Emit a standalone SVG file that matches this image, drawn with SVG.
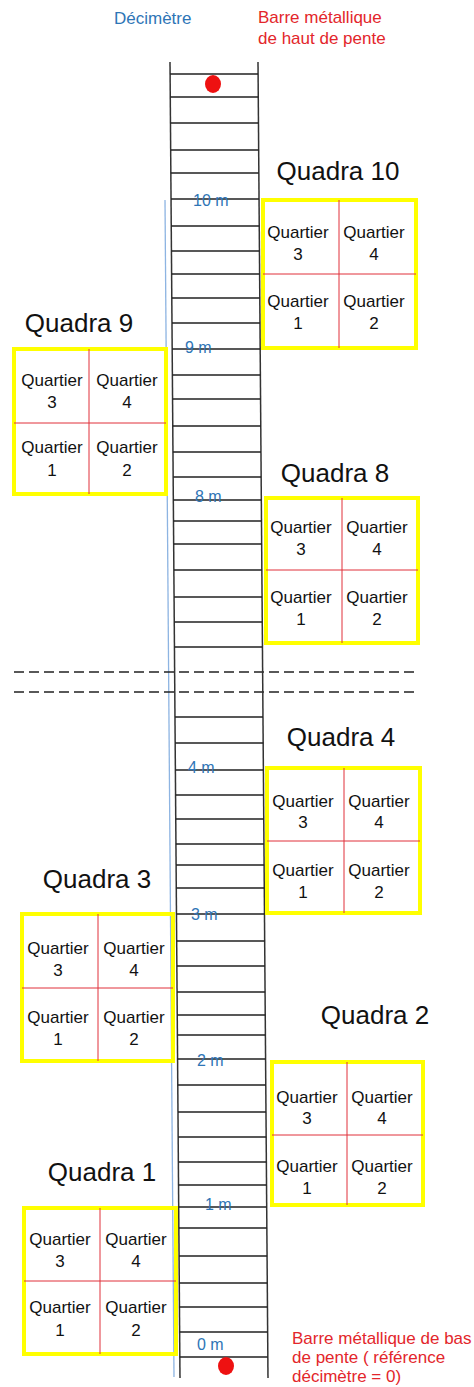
<svg xmlns="http://www.w3.org/2000/svg" width="474" height="1387" viewBox="0 0 474 1387">
<style>
.t{font-family:"Liberation Sans",Arial,sans-serif}
.title{font-size:26px;fill:#111;text-anchor:middle}
.q{font-size:17px;fill:#111;text-anchor:middle}
.m{font-size:16px;fill:#2e75b6}
.red{font-size:17px;fill:#e3262b}
.box{fill:none;stroke:#ffff00;stroke-width:4}
.div{stroke:#e0303a;stroke-width:1}
.rail{stroke:#333;stroke-width:1.5;fill:none}
.rung{stroke:#222;stroke-width:1.4;fill:none}
.dash{stroke:#222;stroke-width:1.4;stroke-dasharray:10 5}
</style>
<rect width="474" height="1387" fill="#fff"/>
<g id="labels" class="t">
<text class="m" x="114" y="24" style="font-size:17px">Décimètre</text>
<text class="red" x="258" y="23">Barre métallique</text>
<text class="red" x="258" y="44">de haut de pente</text>
<text class="red" x="292" y="1344">Barre métallique de bas</text>
<text class="red" x="292" y="1363">de pente ( référence</text>
<text class="red" x="292" y="1382">décimètre = 0)</text>
</g>
<g id="connectors">
<line x1="165" y1="200" x2="174" y2="1377" stroke="#8db4e2" stroke-width="1.3"/>
<line class="dash" x1="14" y1="672" x2="415" y2="672"/>
<line class="dash" x1="14" y1="692" x2="418" y2="692"/>
</g>
<g id="ladder">
<line class="rail" x1="170" y1="62" x2="180" y2="1378"/>
<line class="rail" x1="258" y1="62" x2="268" y2="1378"/>
<path class="rung" d="M170.1 74h88M170.3 97h88M170.5 123h88M170.7 150h88M170.8 173h88M171 199h88M171.2 226h88M171.4 251h88M171.6 274h88M171.8 298h88M172 323h88M172.2 349h88M172.4 375h88M172.6 399h88M172.8 426h88M173 452h88M173.2 477h88M173.3 500h88M173.5 521h88M173.7 544h88M173.9 570h88M174.1 597h88M174.3 622h88M174.4 647h88M175 717h88M175.2 743h88M175.4 770h88M175.6 795h88M175.8 819h88M175.9 844h88M176.1 865h88M176.3 888h88M176.5 914h88M176.7 941h88M176.9 966h88M177.1 992h88M177.2 1015h88M177.4 1035h88M177.6 1059h88M177.8 1085h88M178 1112h88M178.2 1137h88M178.4 1162h88M178.5 1185h88M178.7 1207h88M178.9 1228h88M179.1 1256h88M179.3 1283h88M179.5 1307h88M179.7 1332h88M179.8 1357h88"/>
<ellipse cx="213" cy="84" rx="8" ry="9" fill="#ee1111"/>
<ellipse cx="226" cy="1366" rx="8" ry="9" fill="#ee1111"/>
<g class="t">
<text class="m" x="193" y="206">10 m</text>
<text class="m" x="185" y="353">9 m</text>
<text class="m" x="195" y="502">8 m</text>
<text class="m" x="188" y="773">4 m</text>
<text class="m" x="191" y="920">3 m</text>
<text class="m" x="197" y="1066">2 m</text>
<text class="m" x="205" y="1210">1 m</text>
<text class="m" x="197" y="1350">0 m</text>
</g>
</g>
<g id="quadra10" class="t">
<text class="title" x="338" y="180">Quadra 10</text>
<rect class="box" x="263" y="200" width="153" height="148"/>
<line class="div" x1="263" y1="274" x2="416" y2="274"/>
<line class="div" x1="339" y1="200" x2="339" y2="348"/>
<text class="q" x="298" y="238">Quartier</text><text class="q" x="298" y="260">3</text>
<text class="q" x="374" y="238">Quartier</text><text class="q" x="374" y="260">4</text>
<text class="q" x="298" y="307">Quartier</text><text class="q" x="298" y="329">1</text>
<text class="q" x="374" y="307">Quartier</text><text class="q" x="374" y="329">2</text>
</g>
<g id="quadra9" class="t">
<text class="title" x="79" y="332">Quadra 9</text>
<rect class="box" x="14" y="349" width="152" height="145"/>
<line class="div" x1="14" y1="423" x2="166" y2="423"/>
<line class="div" x1="89" y1="349" x2="89" y2="494"/>
<text class="q" x="52" y="386">Quartier</text><text class="q" x="52" y="408">3</text>
<text class="q" x="127" y="386">Quartier</text><text class="q" x="127" y="408">4</text>
<text class="q" x="52" y="453">Quartier</text><text class="q" x="52" y="476">1</text>
<text class="q" x="127" y="453">Quartier</text><text class="q" x="127" y="476">2</text>
</g>
<g id="quadra8" class="t">
<text class="title" x="335" y="482">Quadra 8</text>
<rect class="box" x="266" y="498" width="152" height="145"/>
<line class="div" x1="266" y1="570" x2="418" y2="570"/>
<line class="div" x1="342" y1="498" x2="342" y2="643"/>
<text class="q" x="301" y="533">Quartier</text><text class="q" x="301" y="555">3</text>
<text class="q" x="377" y="533">Quartier</text><text class="q" x="377" y="555">4</text>
<text class="q" x="301" y="603">Quartier</text><text class="q" x="301" y="625">1</text>
<text class="q" x="377" y="603">Quartier</text><text class="q" x="377" y="625">2</text>
</g>
<g id="quadra4" class="t">
<text class="title" x="341" y="746">Quadra 4</text>
<rect class="box" x="267" y="768" width="153" height="145"/>
<line class="div" x1="267" y1="841" x2="420" y2="841"/>
<line class="div" x1="344" y1="768" x2="344" y2="913"/>
<text class="q" x="303" y="807">Quartier</text><text class="q" x="303" y="828">3</text>
<text class="q" x="379" y="807">Quartier</text><text class="q" x="379" y="828">4</text>
<text class="q" x="303" y="876">Quartier</text><text class="q" x="303" y="898">1</text>
<text class="q" x="379" y="876">Quartier</text><text class="q" x="379" y="898">2</text>
</g>
<g id="quadra3" class="t">
<text class="title" x="97" y="888">Quadra 3</text>
<rect class="box" x="22" y="914" width="151" height="147"/>
<line class="div" x1="22" y1="988" x2="173" y2="988"/>
<line class="div" x1="98" y1="914" x2="98" y2="1061"/>
<text class="q" x="58" y="954">Quartier</text><text class="q" x="58" y="976">3</text>
<text class="q" x="134" y="954">Quartier</text><text class="q" x="134" y="976">4</text>
<text class="q" x="58" y="1023">Quartier</text><text class="q" x="58" y="1045">1</text>
<text class="q" x="134" y="1023">Quartier</text><text class="q" x="134" y="1045">2</text>
</g>
<g id="quadra2" class="t">
<text class="title" x="375" y="1024">Quadra 2</text>
<rect class="box" x="272" y="1062" width="151" height="143"/>
<line class="div" x1="272" y1="1135" x2="423" y2="1135"/>
<line class="div" x1="347" y1="1062" x2="347" y2="1205"/>
<text class="q" x="307" y="1103">Quartier</text><text class="q" x="307" y="1124">3</text>
<text class="q" x="382" y="1103">Quartier</text><text class="q" x="382" y="1124">4</text>
<text class="q" x="307" y="1172">Quartier</text><text class="q" x="307" y="1194">1</text>
<text class="q" x="382" y="1172">Quartier</text><text class="q" x="382" y="1194">2</text>
</g>
<g id="quadra1" class="t">
<text class="title" x="102" y="1181">Quadra 1</text>
<rect class="box" x="24" y="1208" width="152" height="146"/>
<line class="div" x1="24" y1="1281" x2="176" y2="1281"/>
<line class="div" x1="100" y1="1208" x2="100" y2="1354"/>
<text class="q" x="60" y="1245">Quartier</text><text class="q" x="60" y="1267">3</text>
<text class="q" x="136" y="1245">Quartier</text><text class="q" x="136" y="1267">4</text>
<text class="q" x="60" y="1313">Quartier</text><text class="q" x="60" y="1336">1</text>
<text class="q" x="136" y="1313">Quartier</text><text class="q" x="136" y="1336">2</text>
</g>
</svg>
